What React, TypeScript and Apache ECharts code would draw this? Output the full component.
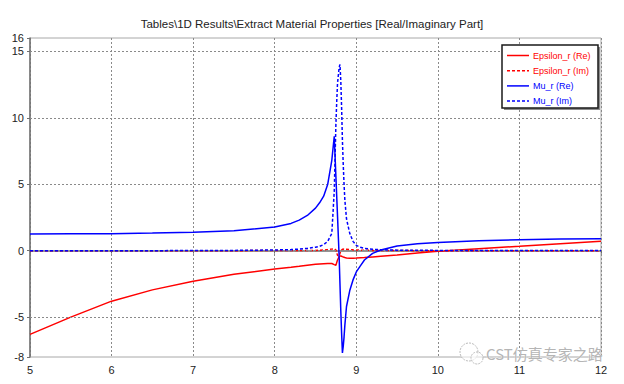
import React, { useEffect, useRef } from "react";
import * as echarts from "echarts";

const titleText = "Tables\\1D Results\\Extract Material Properties [Real/Imaginary Part]";

const freq = [5, 5.5, 6, 6.5, 7, 7.5, 8, 8.2, 8.3, 8.4, 8.5, 8.55, 8.6, 8.65, 8.7, 8.73, 8.75, 8.76, 8.77, 8.79, 8.8, 8.81, 8.82, 8.83, 8.84, 8.85, 8.86, 8.88, 8.92, 8.96, 9.0, 9.05, 9.1, 9.2, 9.3, 9.5, 9.75, 10, 10.5, 11, 11.5, 12];

const epsRe = [-6.3, -5.0, -3.8, -2.95, -2.3, -1.78, -1.38, -1.25, -1.18, -1.1, -1.03, -1.0, -0.98, -0.96, -0.97, -1.05, -1.1, -0.9, -0.7, -0.45, -0.4, -0.4, -0.42, -0.45, -0.47, -0.5, -0.52, -0.55, -0.57, -0.57, -0.56, -0.54, -0.52, -0.47, -0.42, -0.32, -0.18, -0.05, 0.15, 0.33, 0.52, 0.7];

const epsIm = [0, 0, 0, 0, 0, 0, 0.01, 0.01, 0.01, 0.02, 0.02, 0.03, 0.05, 0.08, 0.12, 0.15, 0.05, -0.15, -0.35, -0.4, -0.2, -0.05, 0.05, 0.1, 0.11, 0.12, 0.11, 0.1, 0.08, 0.06, 0.05, 0.04, 0.03, 0.02, 0.01, 0.01, 0, 0, 0, 0, 0, 0];

const muRe = [1.26, 1.27, 1.28, 1.32, 1.38, 1.5, 1.78, 2.05, 2.3, 2.65, 3.2, 3.6, 4.1, 5.0, 6.8, 8.6, 5.6, 4.1, 2.6, -0.5, -2.5, -4.5, -6.2, -7.7, -7.2, -6.5, -5.6, -4.2, -3.0, -2.2, -1.6, -1.15, -0.7, -0.2, 0.05, 0.35, 0.52, 0.62, 0.74, 0.82, 0.87, 0.9];

const muIm = [0, 0, 0, 0, 0.01, 0.02, 0.05, 0.08, 0.12, 0.17, 0.26, 0.33, 0.45, 0.7, 1.3, 4.5, 9.5, 11.2, 12.6, 13.8, 14.0, 12.8, 10.8, 8.3, 6.5, 5.0, 3.8, 2.4, 1.3, 0.7, 0.4, 0.25, 0.17, 0.1, 0.07, 0.04, 0.03, 0.02, 0.01, 0.01, 0.01, 0.01];

const seriesNames = ["Epsilon_r (Re)", "Epsilon_r (Im)", "Mu_r (Re)", "Mu_r (Im)"];
const seriesColors = ["#ff0000", "#ff0000", "#0000ff", "#0000ff"];
const seriesDashed = [false, true, false, true];
const seriesValues = [epsRe, epsIm, muRe, muIm];

const yTickValues = [-8, -5, 0, 5, 10, 15, 16];
const yGridValues = [-5, 0, 5, 10, 15];
const watermarkText = "CST仿真专家之路";

export default function App() {
  const ref = useRef<HTMLDivElement>(null);
  useEffect(() => {
    document.body.style.margin = "0";
    if (!ref.current) return;
    const chart = echarts.init(ref.current, null, { renderer: "svg" });
    const font = "Liberation Sans";
    const dash = [3, 2];
    const lineSeries = seriesNames.map((name, i) => ({
      name,
      type: "line",
      data: freq.map((f, k) => [f, seriesValues[i][k]]),
      symbol: "none",
      showSymbol: false,
      z: 3 + i,
      lineStyle: {
        color: seriesColors[i],
        width: 1.5,
        type: seriesDashed[i] ? dash : "solid",
      },
      itemStyle: { color: seriesColors[i] },
    }));
    const legendGraphics: any[] = [];
    seriesNames.forEach((name, i) => {
      const yRow = 55.5 + i * 15.2;
      legendGraphics.push({
        type: "line",
        z: 10,
        shape: { x1: 507, y1: yRow, x2: 529, y2: yRow },
        style: {
          stroke: seriesColors[i],
          lineWidth: 1.5,
          lineDash: seriesDashed[i] ? dash : null,
        },
      });
      legendGraphics.push({
        type: "text",
        z: 10,
        x: 533,
        y: yRow,
        style: {
          text: name,
          fontFamily: font,
          fontSize: 9,
          fill: seriesColors[i],
          verticalAlign: "middle",
          align: "left",
        },
      });
    });
    chart.setOption({
      animation: false,
      backgroundColor: "#ffffff",
      title: {
        text: titleText,
        left: "center",
        top: 13,
        textStyle: { fontFamily: font, fontSize: 11.5, fontWeight: "normal", color: "#222" },
      },
      grid: {
        left: 30,
        right: 23,
        top: 38,
        bottom: 27,
        show: true,
        borderColor: "#a8a8a8",
        borderWidth: 1,
        containLabel: false,
      },
      xAxis: {
        type: "value",
        min: 5,
        max: 12,
        interval: 1,
        axisLine: { show: true, lineStyle: { color: "#707070", width: 1.5 } },
        axisTick: { show: true, length: 3, lineStyle: { color: "#707070" } },
        axisLabel: { fontFamily: font, fontSize: 11, color: "#222", margin: 7 },
        splitLine: { show: true, lineStyle: { color: "#8a8a8a", type: [2, 2], width: 1 } },
      },
      yAxis: {
        type: "value",
        min: -8,
        max: 16,
        axisLine: { show: true, lineStyle: { color: "#707070", width: 1.5 } },
        axisTick: { show: true, length: 3, customValues: yTickValues, lineStyle: { color: "#707070" } },
        axisLabel: { fontFamily: font, fontSize: 11, color: "#222", margin: 6, customValues: yTickValues },
        splitLine: { show: false },
      },
      graphic: [
        {
          type: "rect",
          z: 8,
          shape: { x: 504, y: 47, width: 96, height: 63 },
          style: { fill: "#8c8c8c" },
        },
        {
          type: "rect",
          z: 9,
          shape: { x: 502, y: 45, width: 96, height: 63 },
          style: { fill: "#ffffff", stroke: "#1a1a1a", lineWidth: 1.5 },
        },
        ...legendGraphics,
        {
          type: "circle",
          z: 9,
          shape: { cx: 469, cy: 352, r: 9 },
          style: { fill: "rgba(255,255,255,0.6)", stroke: "#bbbbbb", lineWidth: 1, lineDash: [2, 1] },
        },
        {
          type: "circle",
          z: 9,
          shape: { cx: 477, cy: 358, r: 6 },
          style: { fill: "rgba(255,255,255,0.6)", stroke: "#bbbbbb", lineWidth: 1, lineDash: [2, 1] },
        },
        {
          type: "text",
          z: 9,
          x: 486,
          y: 346,
          style: {
            text: watermarkText,
            fontFamily: "Noto Sans CJK SC",
            fontSize: 15,
            fill: "#b5b5b5",
            stroke: "#ffffff",
            lineWidth: 0.5,
          },
        },
      ],
      series: [
        {
          name: "grid",
          type: "line",
          data: [],
          z: 1,
          silent: true,
          markLine: {
            silent: true,
            symbol: ["none", "none"],
            label: { show: false },
            lineStyle: { color: "#8a8a8a", type: [2, 2], width: 1 },
            data: yGridValues.map((v) => ({ yAxis: v })),
          },
        },
        ...lineSeries,
      ],
    });
    return () => chart.dispose();
  }, []);
  return <div ref={ref} style={{ width: 624, height: 384 }} />;
}
